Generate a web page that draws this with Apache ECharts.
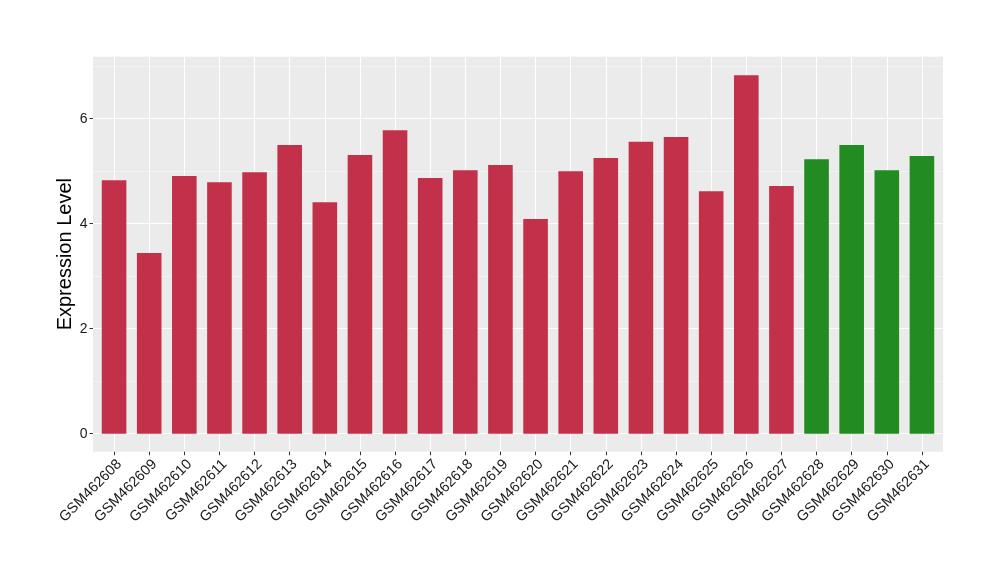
<!DOCTYPE html>
<html><head><meta charset="utf-8">
<script src="https://cdn.jsdelivr.net/npm/echarts@6/dist/echarts.min.js"></script>
<style>html,body{margin:0;padding:0;background:#fff}#c{width:1000px;height:580px}</style>
</head><body><div id="c"></div>
<script>
const categories = ['GSM462608','GSM462609','GSM462610','GSM462611','GSM462612','GSM462613','GSM462614','GSM462615','GSM462616','GSM462617','GSM462618','GSM462619','GSM462620','GSM462621','GSM462622','GSM462623','GSM462624','GSM462625','GSM462626','GSM462627','GSM462628','GSM462629','GSM462630','GSM462631'];
const values = [4.83,3.44,4.91,4.79,4.98,5.50,4.41,5.31,5.78,4.87,5.02,5.12,4.09,5.00,5.25,5.56,5.65,4.62,6.83,4.72,5.23,5.50,5.02,5.29];
const groups = ['a','a','a','a','a','a','a','a','a','a','a','a','a','a','a','a','a','a','a','a','b','b','b','b'];
const groupColors = {a:'#C3304A', b:'#228B22'};
const yMajorTicks = [0,2,4,6];

const chart = echarts.init(document.getElementById('c'), null, {renderer:'canvas'});
const FONT = "'Liberation Sans', Arial, Helvetica, sans-serif";
const panelL = 93, panelR = 57, panelT = 56.7, panelB = 128.3;
const y0 = 433.7, pxPerUnit = 52.5;
const band = 35.1;
const yBottomVal = -(580 - panelB - y0) / pxPerUnit;
chart.setOption({
  animation:false,
  grid:[
    {left:panelL,right:panelR,top:panelT,bottom:panelB,show:true,backgroundColor:'#EBEBEB',borderWidth:0,z:0},
    {left:panelL,right:panelR,top:y0-7*pxPerUnit,bottom:580-y0},
    {left:panelL,right:panelR,top:y0-6*pxPerUnit,bottom:580-y0},
    {left:panelL+0.6*band,right:panelR+0.6*band,top:panelT,bottom:panelB},
    {left:panelL+0.1*band,right:panelR+0.1*band,top:y0-7*pxPerUnit,bottom:panelB}
  ],
  xAxis:[
    {gridIndex:0,type:'value',show:false},
    {gridIndex:1,type:'value',show:false},
    {gridIndex:2,type:'value',show:false},
    {gridIndex:3,type:'value',min:0,max:23,interval:1,axisLine:{show:false},axisTick:{show:false},axisLabel:{show:false},
      splitLine:{show:true,lineStyle:{color:'#FFFFFF',width:1.1}}},
    {gridIndex:4,type:'category',data:categories,boundaryGap:true,position:'bottom',
      axisLine:{show:false,onZero:false},
      axisTick:{show:true,alignWithLabel:true,length:3.5,lineStyle:{color:'#333333',width:1}},
      axisLabel:{interval:0,rotate:45,fontSize:14.5,color:'#1A1A1A',fontFamily:FONT,margin:5,
        align:'right',verticalAlign:'top'},
      splitLine:{show:false}}
  ],
  yAxis:[
    {gridIndex:0,type:'value',min:0,max:1,name:'Expression Level',nameLocation:'middle',nameGap:18,
      nameTextStyle:{fontSize:20,color:'#000',fontFamily:FONT},
      axisLine:{show:false},axisTick:{show:false},axisLabel:{show:false},splitLine:{show:false}},
    {gridIndex:1,type:'value',min:0,max:7,interval:1,axisLine:{show:false},axisTick:{show:false},axisLabel:{show:false},
      splitLine:{show:true,lineStyle:{color:'#F5F5F5',width:0.8}}},
    {gridIndex:2,type:'value',min:0,max:6,interval:2,axisLine:{show:false},
      axisTick:{show:true,length:3.5,lineStyle:{color:'#333333',width:1}},
      axisLabel:{show:true,fontSize:14,color:'#1A1A1A',fontFamily:FONT,margin:5.5,
        formatter:v=>yMajorTicks.includes(v)?String(v):''},
      splitLine:{show:true,lineStyle:{color:'#FFFFFF',width:1.1}}},
    {gridIndex:3,type:'value',show:false},
    {gridIndex:4,type:'value',min:yBottomVal,max:7,show:false}
  ],
  series:[{
    type:'bar',xAxisIndex:4,yAxisIndex:4,barWidth:'70%',clip:false,z:5,
    data:values.map((v,i)=>({value:v,itemStyle:{color:groupColors[groups[i]]}}))
  }]
});
</script></body></html>
